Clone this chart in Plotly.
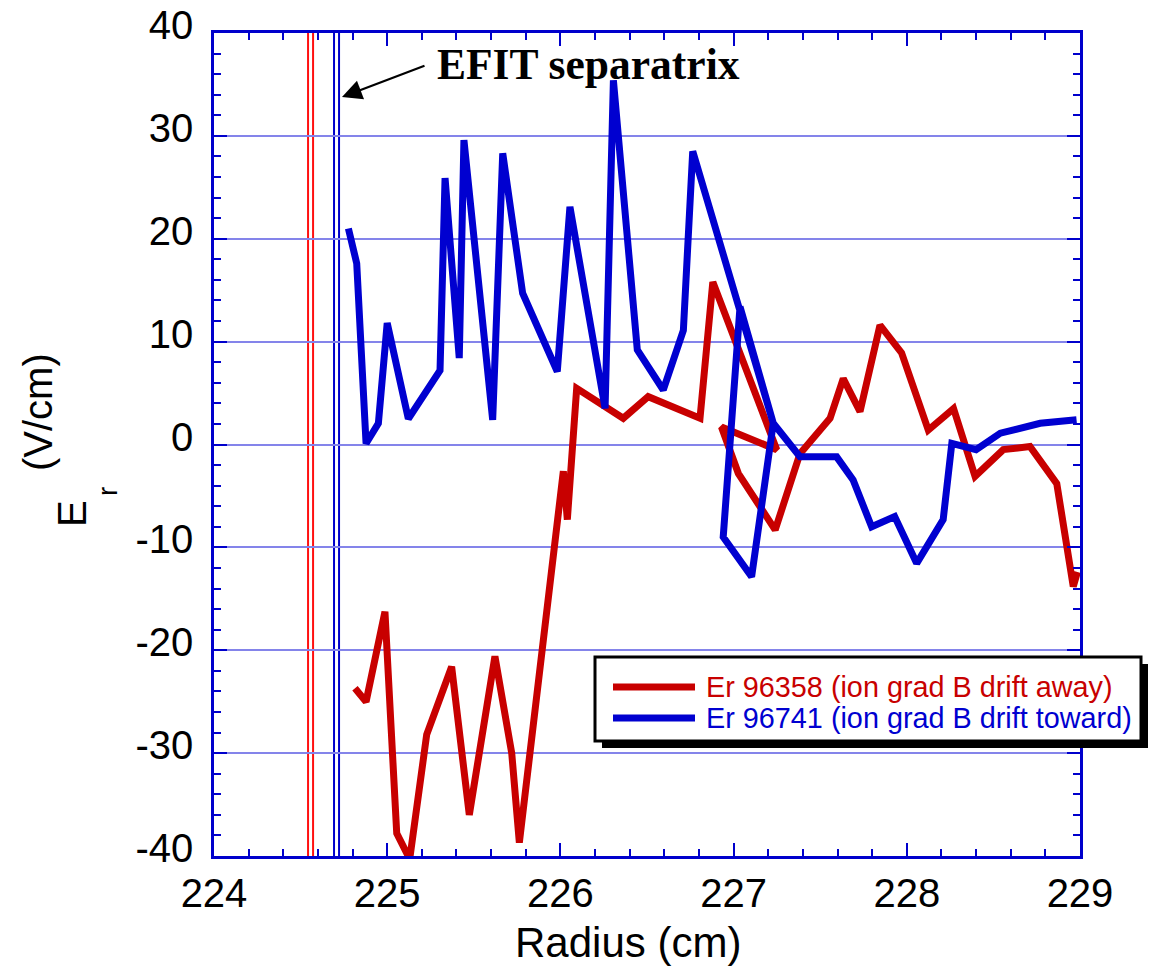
import plotly.graph_objects as go

# ---------------- data ----------------
red_x = [224.814, 224.878, 224.987, 225.055, 225.13, 225.228, 225.372, 225.474, 225.622,
         225.719, 225.763, 226.017, 226.04, 226.094, 226.363, 226.507, 226.806, 226.88,
         227.249, 226.93, 227.027, 227.24, 227.383, 227.557, 227.633, 227.73, 227.845,
         227.97, 228.124, 228.27, 228.394, 228.557, 228.711, 228.866, 228.961, 228.985]
red_y = [-23.7, -25.0, -16.25, -37.8, -40.3, -28.2, -21.6, -36.0, -20.6,
         -30.0, -38.7, -2.6, -7.3, 5.46, 2.55, 4.65, 2.55, 15.8,
         -0.5, 1.7, -2.8, -8.3, -0.9, 2.55, 6.4, 3.2, 11.6,
         8.9, 1.4, 3.5, -3.1, -0.5, -0.2, -3.8, -13.8, -12.4]

blue_x = [224.776, 224.824, 224.878, 224.949, 225.0, 225.122, 225.305, 225.334, 225.416,
          225.443, 225.609, 225.667, 225.782, 225.982, 226.055, 226.258, 226.306, 226.444,
          226.594, 226.71, 226.764, 227.229, 227.037, 226.94, 227.104, 227.229, 227.383,
          227.595, 227.69, 227.797, 227.93, 228.057, 228.21, 228.26, 228.40, 228.54,
          228.77, 228.98]
blue_y = [21.0, 17.6, 0.1, 2.06, 11.8, 2.5, 7.2, 25.9, 8.4,
          29.6, 2.4, 28.3, 14.7, 7.1, 23.1, 3.5, 35.4, 9.2,
          5.3, 11.1, 28.5, 2.06, 13.4, -9.0, -12.85, 2.06, -1.18,
          -1.2, -3.45, -8.0, -7.0, -11.55, -7.3, 0.1, -0.5, 1.1,
          2.06, 2.4]

sep_red_x = [224.543, 224.572]
sep_blue_x = [224.693, 224.722]

red_name = "Er 96358 (ion grad B drift away)"
blue_name = "Er 96741 (ion grad B drift toward)"

x_ticks = [224, 225, 226, 227, 228, 229]
y_ticks = [-40, -30, -20, -10, 0, 10, 20, 30, 40]

RED = "#c80000"
BLUE = "#0000d0"
AX = "#0000cc"

# plot area in pixels
L, R, T, B = 214, 1080, 33, 856
W, H = 1155, 968
PW, PH = R - L, B - T


def px(xp):
    return (xp - L) / PW


def py(yp):
    return (B - yp) / PH


fig = go.Figure()
fig.add_trace(go.Scatter(x=red_x, y=red_y, mode="lines", name=red_name,
                         line=dict(color=RED, width=7), showlegend=False))
fig.add_trace(go.Scatter(x=blue_x, y=blue_y, mode="lines", name=blue_name,
                         line=dict(color=BLUE, width=7), showlegend=False))

shapes = []
for xv in sep_red_x:
    shapes.append(dict(type="line", xref="x", yref="paper", x0=xv, x1=xv, y0=0, y1=1,
                       line=dict(color="#ff1010", width=2), layer="below"))
for xv in sep_blue_x:
    shapes.append(dict(type="line", xref="x", yref="paper", x0=xv, x1=xv, y0=0, y1=1,
                       line=dict(color=AX, width=2), layer="below"))

# manual legend (box with drop shadow)
bx0, bx1, by0, by1 = 595, 1141, 657, 741
sh = 7
shapes.append(dict(type="rect", xref="paper", yref="paper",
                   x0=px(bx0 + sh), x1=px(bx1 + sh), y0=py(by1 + sh), y1=py(by0 + sh),
                   fillcolor="black", line=dict(width=0), layer="above"))
shapes.append(dict(type="rect", xref="paper", yref="paper",
                   x0=px(bx0), x1=px(bx1), y0=py(by1), y1=py(by0),
                   fillcolor="white", line=dict(color="black", width=3), layer="above"))
for yy, col in [(687, RED), (718, BLUE)]:
    shapes.append(dict(type="line", xref="paper", yref="paper",
                       x0=px(613), x1=px(695), y0=py(yy), y1=py(yy),
                       line=dict(color=col, width=7), layer="above"))

annotations = [
    dict(xref="paper", yref="paper", x=px(704), y=py(687), text=red_name, showarrow=False,
         xanchor="left", yanchor="middle",
         font=dict(family="Liberation Sans", size=28.8, color=RED)),
    dict(xref="paper", yref="paper", x=px(704), y=py(718), text=blue_name, showarrow=False,
         xanchor="left", yanchor="middle",
         font=dict(family="Liberation Sans", size=28.8, color=BLUE)),
    # arrow
    dict(x=224.739, y=33.77, xref="x", yref="y", ax=84, ay=-32, text="", showarrow=True,
         arrowhead=2, arrowsize=1.8, arrowwidth=2.2, arrowcolor="black"),
    dict(x=225.278, y=37.0, xref="x", yref="y", text="<b>EFIT separatrix</b>", showarrow=False,
         xanchor="left", yanchor="middle",
         font=dict(family="Liberation Serif", size=43.5, color="black")),
    # y-axis title pieces
    dict(xref="paper", yref="paper", x=px(38), y=py(412), text="(V/cm)", textangle=-90,
         showarrow=False, xanchor="center", yanchor="middle",
         font=dict(family="Liberation Sans", size=40, color="black")),
    dict(xref="paper", yref="paper", x=px(72), y=py(514), text="E", textangle=-90,
         showarrow=False, xanchor="center", yanchor="middle",
         font=dict(family="Liberation Sans", size=40, color="black")),
    dict(xref="paper", yref="paper", x=px(107), y=py(492), text="r", textangle=-90,
         showarrow=False, xanchor="center", yanchor="middle",
         font=dict(family="Liberation Sans", size=28, color="black")),
    # x-axis title
    dict(xref="paper", yref="paper", x=px(628), y=py(942), text="Radius (cm)",
         showarrow=False, xanchor="center", yanchor="middle",
         font=dict(family="Liberation Sans", size=42, color="black")),
]

fig.update_layout(
    width=W, height=H,
    margin=dict(l=L, r=W - R, t=T, b=H - B),
    paper_bgcolor="white", plot_bgcolor="white",
    showlegend=False,
    shapes=shapes, annotations=annotations,
    font=dict(family="Liberation Sans", color="black"),
)

fig.update_xaxes(
    range=[224, 229], tickvals=x_ticks, ticktext=[str(v) for v in x_ticks],
    showline=True, linecolor=AX, linewidth=2.5, mirror="allticks",
    ticks="inside", ticklen=13, tickwidth=2, tickcolor=AX,
    minor=dict(dtick=0.2, ticks="inside", ticklen=7, tickwidth=2, tickcolor=AX, showgrid=False),
    showgrid=False, zeroline=False, automargin=False,
    tickfont=dict(family="Liberation Sans", size=40, color="black"),
    ticklabelstandoff=0,
)
fig.update_yaxes(
    range=[-40, 40], tickvals=y_ticks, ticktext=[str(v) for v in y_ticks],
    showline=True, linecolor=AX, linewidth=2.5, mirror="allticks",
    ticks="inside", ticklen=13, tickwidth=2, tickcolor=AX,
    minor=dict(dtick=2, ticks="inside", ticklen=7, tickwidth=2, tickcolor=AX, showgrid=False),
    showgrid=True, gridcolor="#8484ea", gridwidth=2, zeroline=False, automargin=False,
    tickfont=dict(family="Liberation Sans", size=40, color="black"),
    ticklabelstandoff=10, ticklabelshift=-8,
)

fig.write_html("out.html")
